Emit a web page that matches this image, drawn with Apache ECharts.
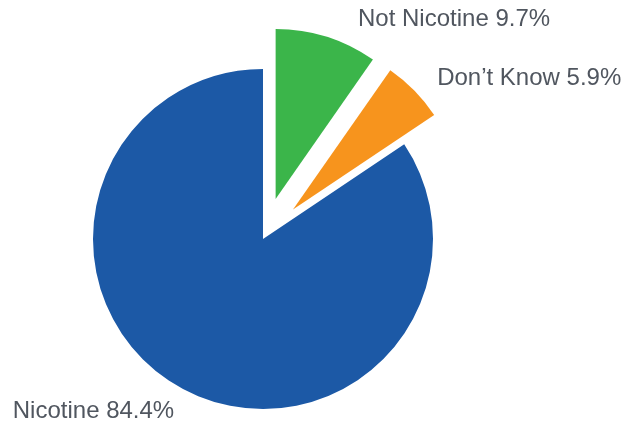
<!DOCTYPE html>
<html><head><meta charset="utf-8">
<script src="https://cdn.jsdelivr.net/npm/echarts@6/dist/echarts.min.js"></script>
<style>html,body{margin:0;padding:0;background:#fff}#c{width:636px;height:424px}</style>
</head><body><div id="c"></div>
<script>
const categories = ["Not Nicotine", "Don\u2019t Know", "Nicotine"];
const values = [9.7, 5.9, 84.4];
const colors = ["#3bb54a", "#f7941d", "#1c59a6"];
const exploded = [true, true, false];
const lineLen = [[18, 21, 5], [18, 5, 5], [25, 0, -3]];

const chart = echarts.init(document.getElementById('c'), null, {renderer: 'canvas'});
chart.setOption({
  animation: false,
  series: [{
    type: 'pie',
    center: [263, 239],
    radius: [0, 170],
    startAngle: 90,
    clockwise: true,
    avoidLabelOverlap: false,
    selectedMode: 'multiple',
    selectedOffset: 42,
    emphasis: {disabled: true},
    label: {
      show: true,
      position: 'outside',
      fontSize: 24,
      fontFamily: 'Liberation Sans, Arial, sans-serif',
      color: '#50565f',
      formatter: p => p.name + ' ' + p.value.toFixed(1) + '%'
    },
    labelLine: {show: false},
    data: categories.map((n, i) => ({
      name: n,
      value: values[i],
      selected: exploded[i],
      itemStyle: {color: colors[i]},
      label: {distanceToLabelLine: lineLen[i][2]},
      labelLine: {show: false, length: lineLen[i][0], length2: lineLen[i][1]}
    }))
  }]
});
</script></body></html>
